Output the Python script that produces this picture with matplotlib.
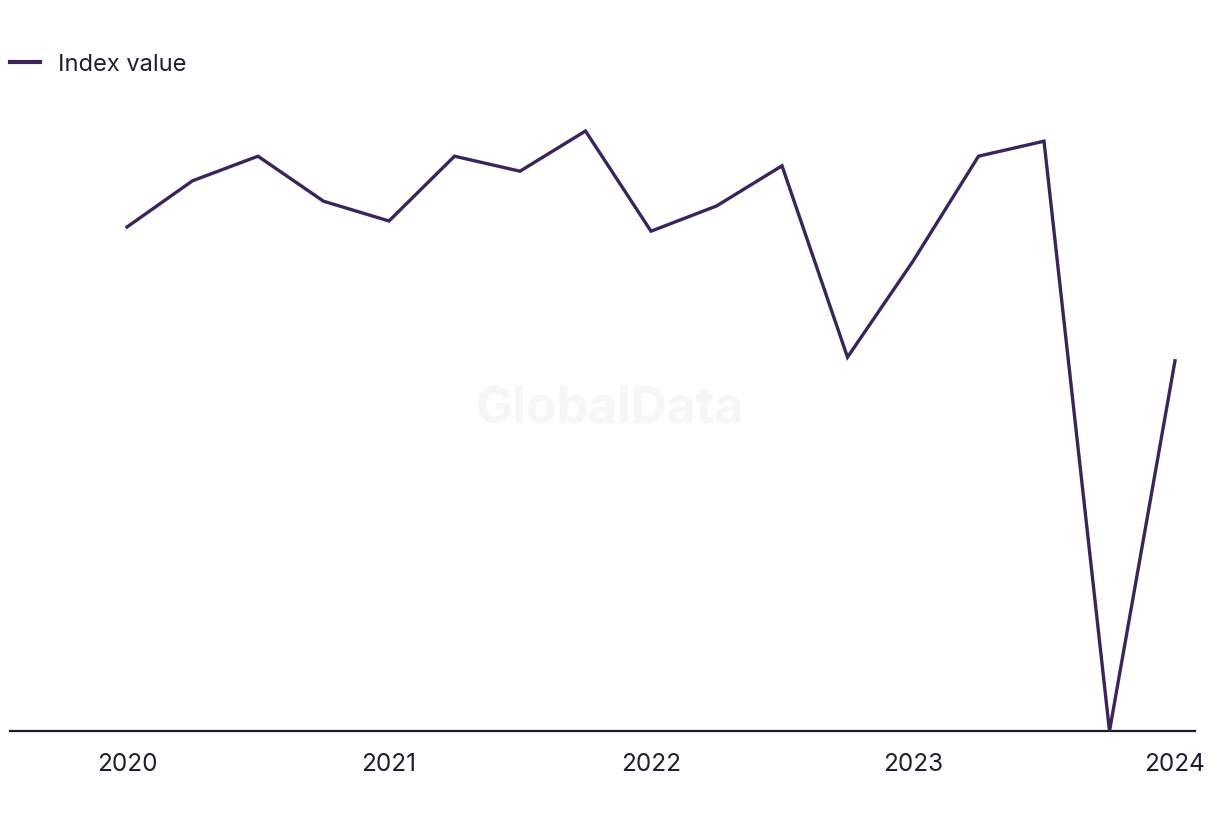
import matplotlib
matplotlib.use("Agg")
import matplotlib.pyplot as plt

# Quarterly data, 2020 Q1 .. 2024 Q1
quarters = [2020.0, 2020.25, 2020.5, 2020.75,
            2021.0, 2021.25, 2021.5, 2021.75,
            2022.0, 2022.25, 2022.5, 2022.75,
            2023.0, 2023.25, 2023.5, 2023.75,
            2024.0]
index_values = [84.0, 91.7, 95.8, 88.3,
                85.0, 95.8, 93.3, 100.0,
                83.3, 87.5, 94.2, 62.3,
                78.3, 95.8, 98.3, 0.0,
                61.7]
tick_years = [2020, 2021, 2022, 2023, 2024]
tick_labels = ["2020", "2021", "2022", "2023", "2024"]
series_name = "Index value"

plt.rcParams['font.family'] = ['Inter', 'DejaVu Sans']

fig = plt.figure(figsize=(12.2, 8.2), dpi=100)
ax = fig.add_axes([10/1220, 88/820, 1185/1220, 630/820])

line_color = "#3a2459"
ax.plot(quarters, index_values, color=line_color, linewidth=2.4,
        solid_joinstyle='miter', label=series_name, clip_on=False)

ax.set_xlim(2020 - 117/262, 2024 + 20/262)
ax.set_ylim(0, 105)

for s in ['top', 'right', 'left']:
    ax.spines[s].set_visible(False)
ax.spines['bottom'].set_color('#1a1a2e')
ax.spines['bottom'].set_linewidth(1.6)
ax.spines['bottom'].set_zorder(1)

ax.set_yticks([])
ax.set_xticks(tick_years)
ax.set_xticklabels(tick_labels, fontsize=17.5, color='#1e1e30')
ax.tick_params(axis='x', length=0, pad=15)

fig.text(610/1220, 1 - 410/820, "GlobalData", fontsize=36, fontweight='bold',
         color='#f6f6f6', ha='center', va='center', zorder=0)

leg = fig.legend(loc='upper left', bbox_to_anchor=(10/1220, 1 - 54/820),
                 frameon=False, fontsize=17, handlelength=1.27,
                 handletextpad=0.76, borderaxespad=0, borderpad=0)
for t in leg.get_texts():
    t.set_color('#1e1e30')
for h in leg.legend_handles:
    h.set_linewidth(3)

fig.savefig("out.png", dpi=100)
